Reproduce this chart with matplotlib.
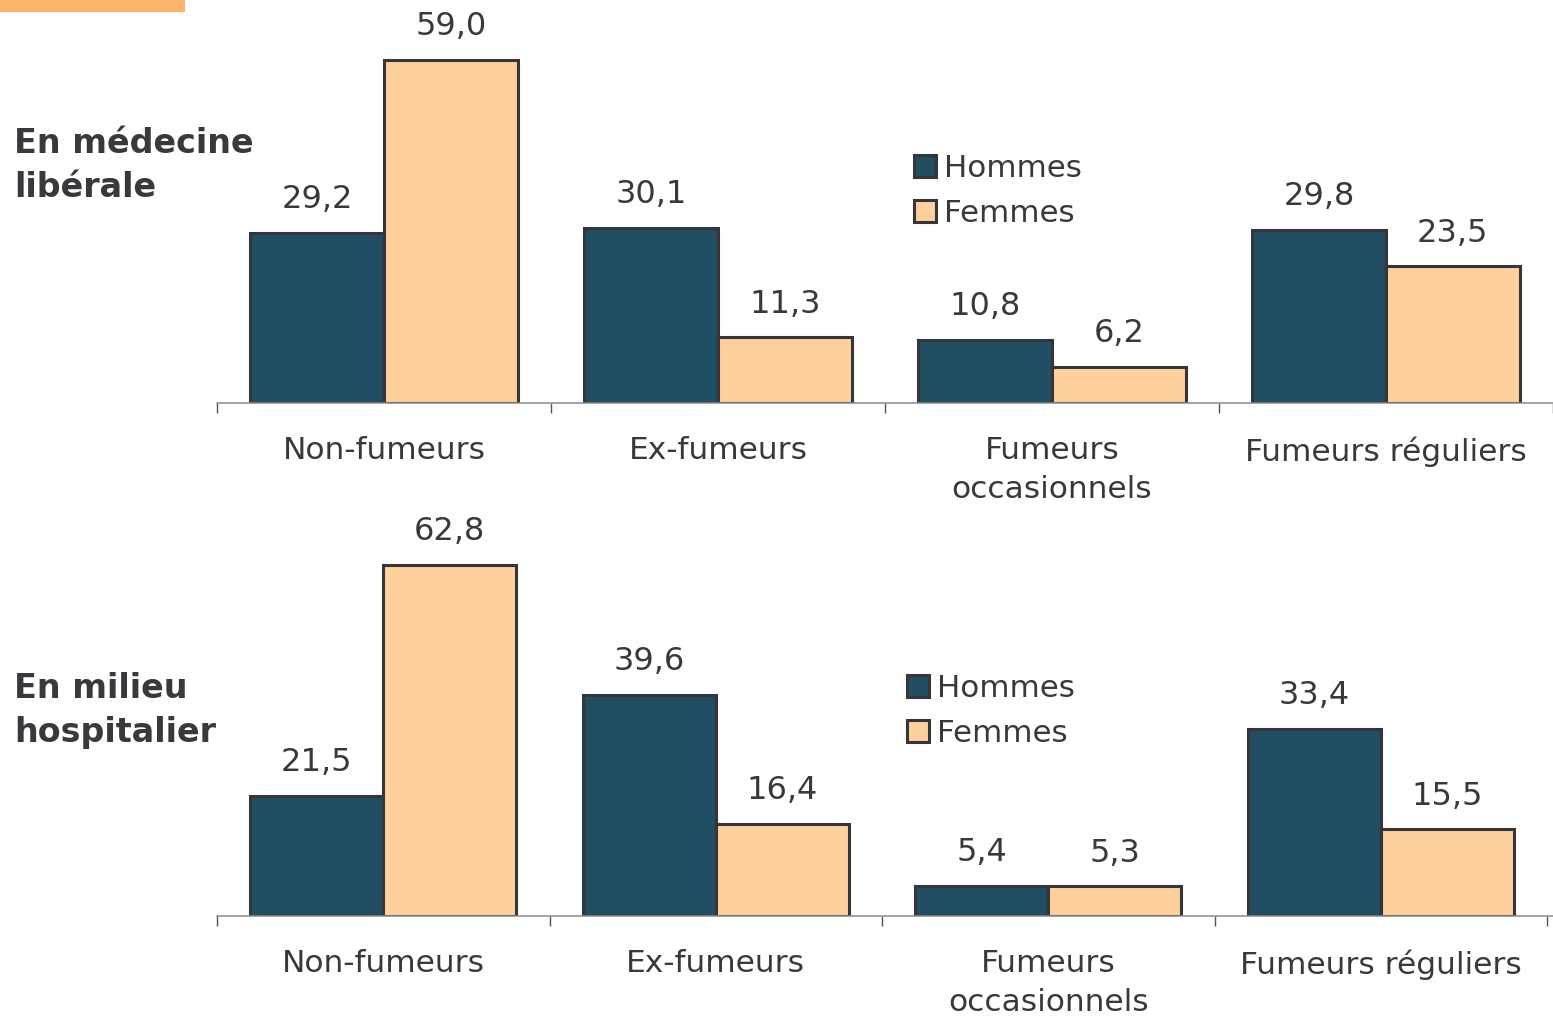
import matplotlib
matplotlib.use("Agg")
import matplotlib.pyplot as plt
from matplotlib.patches import Rectangle
import numpy as np

categories = ["Non-fumeurs", "Ex-fumeurs", "Fumeurs\noccasionnels", "Fumeurs réguliers"]
series_names = ["Hommes", "Femmes"]

liberale_hommes = [29.2, 30.1, 10.8, 29.8]
liberale_femmes = [59.0, 11.3, 6.2, 23.5]
hopital_hommes = [21.5, 39.6, 5.4, 33.4]
hopital_femmes = [62.8, 16.4, 5.3, 15.5]

panel_titles = ["En médecine\nlibérale", "En milieu\nhospitalier"]

DARK = "#214E63"
LIGHT = "#FDD09C"
EDGE = "#35353A"
TEXT = "#38383D"

W, H = 1553, 1019
fig = plt.figure(figsize=(W / 100, H / 100), dpi=100)
plt.rcParams['font.family'] = ['DejaVu Sans']

# orange band top left
fig.patches.append(Rectangle((0, 1 - 12 / H), 185 / W, 12 / H, transform=fig.transFigure,
                             facecolor="#FBB56A", edgecolor="none"))


def fmt(v):
    return f"{v:.1f}".replace(".", ",")


def panel(rect, xmax, ymax, hommes, femmes, title, title_y, leg_anchor):
    ax = fig.add_axes(rect)
    x = np.arange(len(categories))
    w = 0.4
    b1 = ax.bar(x - w / 2, hommes, w, color=DARK, edgecolor=EDGE, linewidth=2.2, label=series_names[0])
    b2 = ax.bar(x + w / 2, femmes, w, color=LIGHT, edgecolor=EDGE, linewidth=2.2, label=series_names[1])
    for bars, vals in ((b1, hommes), (b2, femmes)):
        for b, v in zip(bars, vals):
            ax.annotate(fmt(v), (b.get_x() + b.get_width() / 2, v), xytext=(0, 24),
                        textcoords="offset points", ha="center", va="center",
                        fontsize=23, color=TEXT)
    ax.set_xlim(-0.5, xmax)
    ax.set_ylim(0, ymax)
    for s in ("top", "right", "left"):
        ax.spines[s].set_visible(False)
    ax.spines["bottom"].set_color("#8A8A8A")
    ax.spines["bottom"].set_linewidth(1.1)
    ax.set_yticks([])
    ax.set_xticks(x)
    ax.set_xticklabels(categories, fontsize=22.5, color=TEXT, linespacing=1.42)
    ax.tick_params(axis="x", which="major", length=0, pad=24)
    ax.set_xticks(np.arange(-0.5, len(categories)), minor=True)
    ax.tick_params(axis="x", which="minor", length=7, width=1, color="#555555")
    fig.text(14 / W, title_y, title, fontsize=24, fontweight="bold", color=TEXT,
             ha="left", va="top", linespacing=1.43)
    ax.legend(loc="upper left", bbox_to_anchor=leg_anchor, bbox_transform=fig.transFigure,
              frameon=False, fontsize=22.3, handlelength=0.72, handleheight=0.72,
              handletextpad=0.25, labelspacing=0.52, borderaxespad=0, borderpad=0,
              labelcolor=TEXT)
    return ax


top_rect = [217 / W, (H - 403) / H, 1336 / W, 377.7 / H]
panel(top_rect, -0.5 + 1336 / 336, 65, liberale_hommes, liberale_femmes,
      panel_titles[0], 1 - 127 / H, (914 / W, 1 - 154 / H))

bot_rect = [217 / W, (H - 916) / H, 1336 / W, 391.3 / H]
panel(bot_rect, -0.5 + 1336 / 332.5, 70, hopital_hommes, hopital_femmes,
      panel_titles[1], 1 - 672 / H, (907 / W, 1 - 674 / H))

fig.savefig("out.png", dpi=100)
